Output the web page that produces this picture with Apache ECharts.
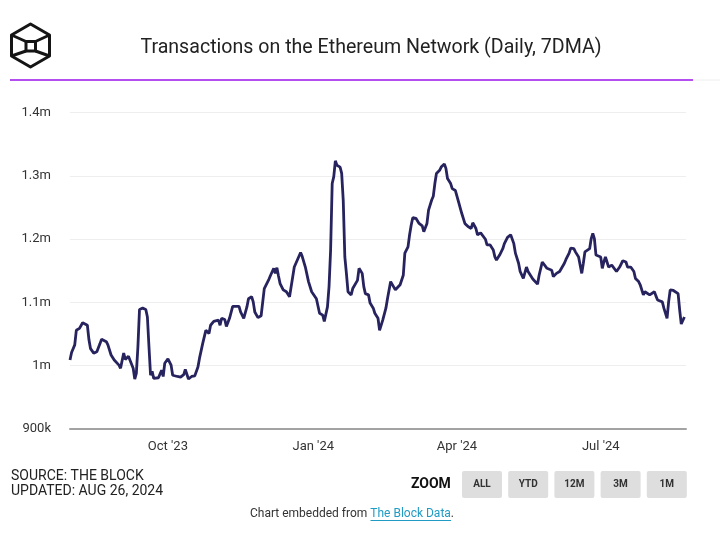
<!DOCTYPE html>
<html>
<head>
<meta charset="utf-8">
<script src="https://cdn.jsdelivr.net/npm/echarts@6/dist/echarts.min.js"></script>
<style>
html,body{margin:0;padding:0;background:#fff;}
#chart{width:720px;height:553px;}
</style>
</head>
<body>
<div id="chart"></div>
<script>
// ---- data (values in thousands of transactions, 7DMA) ----
const startDate = '2023-07-31';
const dayCount = 391;
const tickDates = ['2023-10-01', '2024-01-01', '2024-04-01', '2024-07-01'];
const tickLabels = ["Oct '23", "Jan '24", "Apr '24", "Jul '24"];
const yTicks = [900, 1000, 1100, 1200, 1300, 1400];
const yTickLabels = ['900k', '1m', '1.1m', '1.2m', '1.3m', '1.4m'];

const dayIndex = [0,1,3,4,6,8,11,12,13,15,17,19,20,23,24,26,28,31,32,34,35,37,38,40,41,42,43,44,46,48,49,50,51,52,53,56,58,59,60,62,64,65,68,70,72,73,75,77,79,81,
82,84,86,88,89,91,92,94,95,96,98,99,101,103,104,107,108,109,110,112,113,115,116,117,118,119,121,122,123,126,127,128,129,130,131,132,133,135,137,
139,142,146,147,149,151,153,154,156,158,160,161,163,164,165,166,167,168,169,171,172,173,174,175,176,178,179,180,182,183,185,186,187,189,190,192,193,195,196,197,198,200,201,
203,204,206,207,209,211,212,214,215,216,217,219,221,223,224,226,227,229,230,231,232,234,235,237,238,239,241,242,244,246,248,250,252,254,255,257,258,260,261,263,264,266,268,269,270,272,274,275,277,
279,281,282,284,285,287,289,290,292,293,294,296,297,299,300,302,303,305,306,308,310,311,313,314,316,317,319,320,322,323,324,325,326,327,329,330,331,332,333,334,336,337,338,339,340,341,343,344,346,348,350,352,353,355,357,358,360,361,363,364,365,367,368,370,371,372,375,376,378,379,380,382,383,385,386,387,388,389];

const txValues = [1009,1021,1033,1056,1059,1068,1064,1041,1027,1020,1022,1035,1042,1038,1033,1017,1009,1001,996,1020,1010,1015,1013,996,979,988,1030,1089,1091,1089,1077,1030,985,991,980,981,993,983,1004,1011,1001,985,983,982,986,994,979,983,984,998,
1012,1035,1056,1051,1064,1070,1068,1072,1064,1075,1073,1062,1075,1094,1096,1094,1085,1083,1075,1093,1106,1109,1101,1085,1083,1076,1079,1080,1122,1137,1143,1143,1154,1146,1155,1142,1130,1120,1117,
1109,1156,1179,1173,1156,1133,1117,1116,1106,1083,1080,1070,1093,1125,1183,1288,1299,1324,1317,1314,1304,1261,1172,1146,1117,1112,1122,1125,1135,1154,1146,1125,1114,1112,1099,1091,1083,1075,1056,1056,1072,1091,1106,
1133,1135,1120,1121,1128,1143,1178,1188,1207,1222,1234,1233,1225,1221,1212,1225,1246,1262,1268,1288,1304,1309,1314,1319,1312,1296,1288,1280,1277,1259,1241,1225,1220,1217,1226,1217,1207,1210,1212,1200,1191,1191,1183,1172,1167,1175,1185,1193,1203,
1207,1193,1178,1162,1149,1138,1156,1149,1141,1137,1138,1129,1143,1164,1167,1154,1151,1151,1141,1146,1149,1151,1162,1168,1178,1186,1185,1180,1172,1159,1146,1162,1180,1182,1185,1201,1209,1201,1175,1178,1172,1154,1164,1172,1164,1156,1159,1162,1149,1156,1166,1164,1156,1156,1149,1138,1133,1128,1112,1117,1118,1112,1113,1117,1110,1104,1101,1091,1075,1101,1120,1119,1121,1114,1088,1066,1068,1077];

// ---- build categories ----
function fmt(d){
  const m = String(d.getUTCMonth()+1).padStart(2,'0');
  const dd = String(d.getUTCDate()).padStart(2,'0');
  return d.getUTCFullYear() + '-' + m + '-' + dd;
}
const categories = [];
const t0 = Date.parse(startDate + 'T00:00:00Z');
for (let i = 0; i < dayCount; i++) categories.push(fmt(new Date(t0 + i*86400000)));
const seriesData = dayIndex.map((d, i) => [d, txValues[i]]);

const chart = echarts.init(document.getElementById('chart'), null, {renderer: 'canvas'});
const FONT = 'Roboto';

const btnNames = ['ALL', 'YTD', '12M', '3M', '1M'];
const graphics = [];
// logo
graphics.push({type:'polygon', shape:{points:[[30.5,24],[49.5,35],[49.5,56],[30.5,67],[11.5,56],[11.5,35]]}, style:{fill:'none', stroke:'#151515', lineWidth:3, lineJoin:'round'}});
graphics.push({type:'rect', shape:{x:26,y:41.5,width:9.5,height:9.5}, style:{fill:'none', stroke:'#151515', lineWidth:3}});
[[11.5,35,26,41.5],[49.5,35,35.5,41.5],[11.5,56,26,51],[49.5,56,35.5,51]].forEach(p=>{
  graphics.push({type:'line', shape:{x1:p[0],y1:p[1],x2:p[2],y2:p[3]}, style:{stroke:'#151515', lineWidth:3}});
});
// title
graphics.push({type:'text', x:371, y:48, style:{text:'Transactions on the Ethereum Network (Daily, 7DMA)', font:'19.6px '+FONT, fill:'#222', align:'center', verticalAlign:'middle'}});
// purple rule
graphics.push({type:'line', shape:{x1:10,y1:80,x2:693,y2:80}, style:{stroke:'#b34ef0', lineWidth:2}});
graphics.push({type:'line', shape:{x1:693,y1:80,x2:720,y2:80}, style:{stroke:'#eeeeee', lineWidth:1}});
// footer
graphics.push({type:'text', x:11, y:476, style:{text:'SOURCE: THE BLOCK', font:'14px '+FONT, fill:'#222', verticalAlign:'middle'}});
graphics.push({type:'text', x:11, y:491, style:{text:'UPDATED: AUG 26, 2024', font:'14px '+FONT, fill:'#222', verticalAlign:'middle'}});
graphics.push({type:'text', x:411, y:484, style:{text:'ZOOM', font:'bold 14px '+FONT, fill:'#111', verticalAlign:'middle'}});
btnNames.forEach((n, i) => {
  const x = 462 + i*46.2;
  graphics.push({type:'rect', shape:{x:x, y:471, width:40, height:27, r:2}, style:{fill:'#dedede'}});
  graphics.push({type:'text', x:x+20, y:484.5, style:{text:n, font:'bold 10px '+FONT, fill:'#333', align:'center', verticalAlign:'middle'}});
});
graphics.push({type:'text', x:352, y:514, style:{text:'{a|Chart embedded from }{b|The Block Data}{a|.}', align:'center', verticalAlign:'middle',
  rich:{a:{font:'12px '+FONT, fill:'#333'}, b:{font:'12px '+FONT, fill:'#1f9bc4'}}}});
graphics.push({type:'line', shape:{x1:370.5,y1:520.5,x2:451,y2:520.5}, style:{stroke:'#1f9bc4', lineWidth:1}});

const option = {
  backgroundColor: '#ffffff',
  animation: false,
  grid: {left: 70, right: 34, top: 112.7, bottom: 124, containLabel: false},
  xAxis: {
    type: 'category',
    data: categories,
    boundaryGap: false,
    axisLine: {show: true, lineStyle: {color: '#a3a3a3', width: 2}},
    axisTick: {show: false},
    axisLabel: {
      interval: (idx, val) => tickDates.indexOf(val) >= 0,
      formatter: (val) => { const k = tickDates.indexOf(val); return k >= 0 ? tickLabels[k] : ''; },
      color: '#333', fontSize: 13, fontFamily: FONT, margin: 11
    },
    splitLine: {show: false}
  },
  yAxis: {
    type: 'value',
    min: 900, max: 1400, interval: 100,
    axisLine: {show: false},
    axisTick: {show: false},
    axisLabel: {
      formatter: (v) => { const k = yTicks.indexOf(v); return k >= 0 ? yTickLabels[k] : ''; },
      color: '#333', fontSize: 13, fontFamily: FONT, margin: 19
    },
    splitLine: {lineStyle: {color: '#eeeeee', width: 1}}
  },
  series: [{
    type: 'line',
    data: seriesData,
    showSymbol: false,
    smooth: false,
    lineStyle: {color: '#27235e', width: 2.8},
    itemStyle: {color: '#27235e'}
  }],
  graphic: graphics
};
chart.setOption(option);
</script>
</body>
</html>
